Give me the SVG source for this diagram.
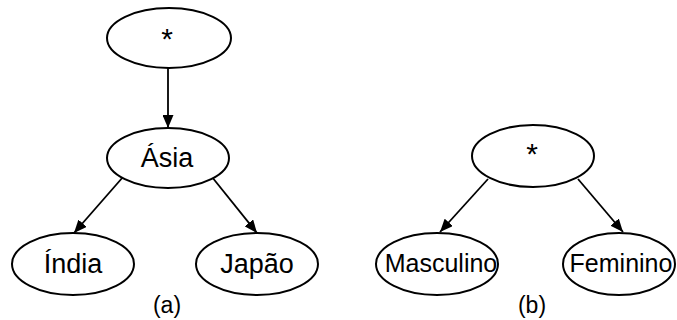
<svg xmlns="http://www.w3.org/2000/svg" width="677" height="320" viewBox="0 0 677 320">
<style>
.n ellipse{fill:#fff;stroke:#000;stroke-width:2}
text{font-family:"Liberation Sans",Arial,sans-serif;font-size:27px;fill:#000;text-anchor:middle;dominant-baseline:central}
.b text{font-size:25px}
.n text.st{font-size:30px}
.lbl{font-size:23px}
.e line{stroke:#000;stroke-width:1.8;marker-end:url(#ah)}
</style>
<defs>
<marker id="ah" viewBox="0 0 13 11" refX="13" refY="5.5" markerWidth="13" markerHeight="11" markerUnits="userSpaceOnUse" orient="auto">
<path d="M0,0 L13,5.5 L0,11 z" fill="#000"/>
</marker>
</defs>
<g class="e" id="connectors">
<line x1="168" y1="68" x2="168" y2="128"/>
<line x1="123" y1="177" x2="74" y2="233"/>
<line x1="212" y1="177" x2="257" y2="233"/>
<line x1="488" y1="179" x2="440" y2="232"/>
<line x1="578" y1="179" x2="623" y2="232"/>
</g>
<g class="n" id="star-a"><ellipse cx="169" cy="38" rx="62" ry="30"/><text class="st" x="167" y="38">*</text></g>
<g class="n" id="asia"><ellipse cx="168" cy="158" rx="61" ry="30"/><text x="167" y="158">Ásia</text></g>
<g class="n" id="india"><ellipse cx="73" cy="264" rx="61" ry="31"/><text x="73" y="264">Índia</text></g>
<g class="n" id="japao"><ellipse cx="257" cy="264" rx="61" ry="31"/><text x="257" y="264">Japão</text></g>
<g class="n b" id="star-b"><ellipse cx="533" cy="156" rx="61" ry="31"/><text class="st" x="532" y="153">*</text></g>
<g class="n b" id="masculino"><ellipse cx="437" cy="264" rx="61" ry="31"/><text x="441" y="263">Masculino</text></g>
<g class="n b" id="feminino"><ellipse cx="619" cy="264" rx="56" ry="31"/><text x="621" y="263">Feminino</text></g>
<text class="lbl" x="167" y="305">(a)</text>
<text class="lbl" x="532" y="305">(b)</text>
</svg>
